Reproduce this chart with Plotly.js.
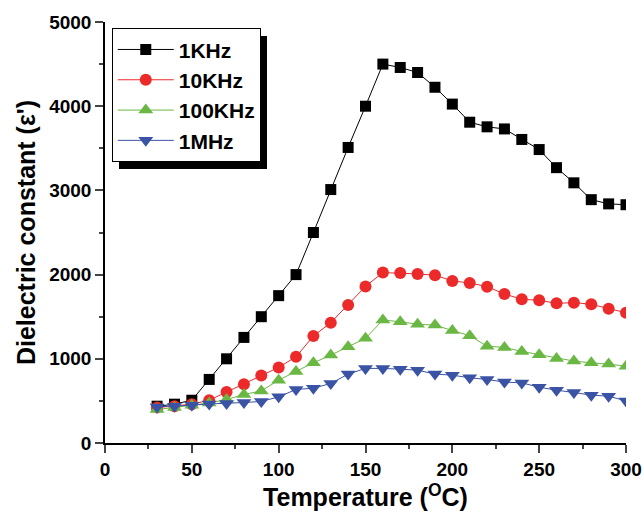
<!DOCTYPE html>
<html>
<head>
<meta charset="utf-8">
<script src="https://cdn.plot.ly/plotly-3.0.1.min.js"></script>
<style>
  body { margin: 0; background: #fff; }
  #chart { width: 644px; height: 514px; }
</style>
</head>
<body>
<div id="chart"></div>
<script>
var temperature = [30, 40, 50, 60, 70, 80, 90, 100, 110, 120, 130, 140, 150, 160,
    170, 180, 190, 200, 210, 220, 230, 240, 250, 260, 270, 280, 290, 300]

var eps1k = [437, 461, 508, 755, 1000, 1254, 1500, 1750, 2000, 2500, 3010, 3510, 4000, 4500,
    4460, 4400, 4225, 4025, 3810, 3755, 3730, 3605, 3485, 3270, 3090, 2890, 2840, 2830]
var eps10k = [421, 437, 461, 508, 607, 699, 802, 898, 1024, 1270, 1429, 1639, 1860, 2024,
    2020, 2008, 1993, 1925, 1901, 1857, 1770, 1707, 1695, 1659, 1667, 1648, 1595, 1548]
var eps100k = [397, 421, 449, 476, 516, 576, 619, 746, 850, 952, 1044, 1143, 1243, 1460,
    1440, 1410, 1400, 1335, 1275, 1150, 1135, 1088, 1048, 1005, 973, 952, 937, 913]
var eps1M = [429, 437, 449, 464, 469, 481, 493, 548, 636, 651, 707, 818, 886, 886,
    877, 865, 818, 806, 774, 755, 723, 714, 663, 627, 600, 568, 556, 500]

var seriesNames = ["1KHz", "10KHz", "100KHz", "1MHz"]

var font = "Arial, 'Liberation Sans', Helvetica, sans-serif"

function series(y, name, color, symbol, size) {
    return {
        x: temperature,
        y: y,
        name: name,
        type: "scatter",
        mode: "lines+markers",
        line: { color: color, width: 1 },
        marker: { color: color, symbol: symbol, size: size, line: { width: 0 } },
    }
}

var traces = [
    series(eps1k, seriesNames[0], "#000000", "square", 11),
    series(eps10k, seriesNames[1], "#ec2a2a", "circle", 12),
    series(eps100k, seriesNames[2], "#6ab843", "triangle-up", 13),
    series(eps1M, seriesNames[3], "#3a53a4", "triangle-down", 13),
]

var tickFont = { family: font, size: 19, color: "#000", weight: "bold" }
var titleFont = { family: font, size: 25, color: "#000", weight: "bold" }

Plotly.newPlot(
    document.getElementById("chart"),
    traces,
    {
        width: 644,
        height: 514,
        margin: { l: 105, r: 18, t: 22, b: 71 },
        paper_bgcolor: "#fff",
        plot_bgcolor: "#fff",
        showlegend: true,
        xaxis: {
            range: [0, 300],
            dtick: 50,
            ticks: "outside",
            ticklen: 8,
            tickwidth: 1.5,
            linewidth: 1.5,
            linecolor: "#000",
            showline: true,
            showgrid: false,
            zeroline: false,
            tickfont: tickFont,
            minor: { dtick: 25, ticks: "outside", ticklen: 4, tickwidth: 1.5, showgrid: false },
            title: { text: "Temperature (<sup>O</sup>C)", font: titleFont, standoff: 6 },
        },
        yaxis: {
            range: [0, 5000],
            dtick: 1000,
            ticks: "outside",
            ticklen: 8,
            tickwidth: 1.5,
            linewidth: 1.5,
            linecolor: "#000",
            showline: true,
            showgrid: false,
            zeroline: false,
            tickfont: tickFont,
            minor: { dtick: 500, ticks: "outside", ticklen: 4, tickwidth: 1.5, showgrid: false },
            title: { text: "Dielectric constant (ε')", font: titleFont, standoff: 6 },
        },
        xaxis2: {
            overlaying: "x",
            side: "top",
            range: [0, 300],
            dtick: 50,
            ticks: "inside",
            ticklen: 6,
            tickwidth: 1,
            showline: true,
            linewidth: 1.5,
            linecolor: "#000",
            showgrid: false,
            zeroline: false,
            showticklabels: false,
            minor: { dtick: 25, ticks: "inside", ticklen: 3, showgrid: false },
        },
        yaxis2: {
            overlaying: "y",
            side: "right",
            range: [0, 5000],
            dtick: 1000,
            ticks: "inside",
            ticklen: 6,
            tickwidth: 1,
            showline: true,
            linewidth: 1.5,
            linecolor: "#000",
            showgrid: false,
            zeroline: false,
            showticklabels: false,
            minor: { dtick: 500, ticks: "inside", ticklen: 3, showgrid: false },
        },
        legend: {
            x: 0.013,
            y: 0.985,
            xanchor: "left",
            yanchor: "top",
            bgcolor: "#fff",
            bordercolor: "#000",
            borderwidth: 1,
            itemwidth: 56,
            tracegroupgap: 0,
            font: { family: font, size: 21, color: "#000", weight: "bold" },
        },
    },
    { displayModeBar: false }
).then(function (gd) {
    // drop shadow behind the legend box, like the original
    var bg = gd.querySelector(".legend rect.bg")
    if (!bg) return
    var shadow = bg.cloneNode()
    shadow.setAttribute("class", "shadow")
    shadow.style.fill = "#000"
    shadow.style.stroke = "none"
    shadow.setAttribute("transform", "translate(7,7)")
    bg.parentNode.insertBefore(shadow, bg)
})
</script>
</body>
</html>
